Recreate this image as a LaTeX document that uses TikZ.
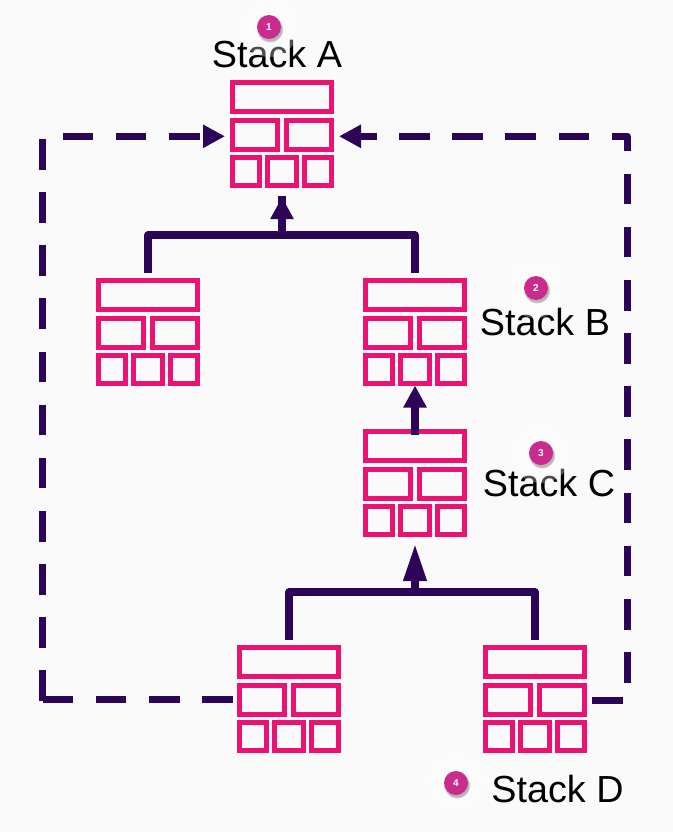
\documentclass[tikz,border=0pt]{standalone}
\usepackage{fontspec}
\setmainfont{Liberation Sans}
\usetikzlibrary{arrows.meta,shadows}

\definecolor{pagebg}{HTML}{FAFAFA}
\definecolor{brickpink}{HTML}{EC1272}
\definecolor{flowpurple}{HTML}{2D0558}
\definecolor{badgepink}{HTML}{C92C8C}

\tikzset{
	brick/.style={draw=brickpink,line width=3.4pt},
	stackbox/.style={minimum width=78pt,minimum height=81pt,inner sep=0pt},
	flow/.style={draw=flowpurple,line width=5.3pt,line join=round},
	flowdash/.style={flow,dash pattern=on 22.95pt off 16.91pt},
	flowhead/.style={-{Triangle[length=16.5pt,width=16.5pt]}},
	flowheadlong/.style={-{Triangle[length=27.75pt,width=16.5pt]}},
	stacklabel/.style={font=\fontsize{28.3pt}{30pt}\selectfont,text=black,inner sep=0pt},
	halo/.style={circle,fill=white,fill opacity=0.3,minimum size=#1,inner sep=0pt},
	badge/.style={circle,fill=badgepink,text=white,minimum size=18pt,inner sep=0pt,
		font=\fontsize{7.5pt}{8pt}\selectfont\bfseries,
		circular drop shadow={shadow xshift=0.6pt,shadow yshift=-1.5pt,opacity=0.55,shadow scale=1.12}},
	pics/bricks/.style={code={
		\draw[brick] (-49.7,-51.7) rectangle (49.7,-22.3);
		\draw[brick] (-49.7,-13.7) rectangle (-4.3,15.7);
		\draw[brick] (4.3,-13.7) rectangle (49.7,15.7);
		\draw[brick] (-49.7,23.3) rectangle (-22.3,51.7);
		\draw[brick] (-14.7,23.3) rectangle (14.7,51.7);
		\draw[brick] (22.3,23.3) rectangle (49.7,51.7);
	}}
}

\begin{document}
\begin{tikzpicture}[x=0.75pt,y=-0.75pt]

	% page
	\fill[pagebg] (0,0) rectangle (673,832);
	\useasboundingbox (0,0) rectangle (673,832);

	% stacks
	\node[stackbox] (stackA) at (282,134) {};
	\node[stackbox] (stackBL) at (148,332) {};
	\node[stackbox] (stackBR) at (415,332) {};
	\node[stackbox] (stackC) at (415,483) {};
	\node[stackbox] (stackDL) at (289,699) {};
	\node[stackbox] (stackDR) at (535,699) {};

	\pic at (stackA) {bricks};
	\pic at (stackBL) {bricks};
	\pic at (stackBR) {bricks};
	\pic at (stackC) {bricks};
	\pic at (stackDL) {bricks};
	\pic at (stackDR) {bricks};

	% line corners and free ends
	\coordinate (topL) at (148,273);
	\coordinate (topR) at (415,273);
	\coordinate (barL) at (148,235);
	\coordinate (barR) at (415,235);
	\coordinate (barM) at (282,235);
	\coordinate (tipA) at (282,197);
	\coordinate (stubA) at (282,196);

	\coordinate (tipB) at (415,385.5);
	\coordinate (footC) at (415,435);

	\coordinate (botL) at (289,640);
	\coordinate (botR) at (535,640);
	\coordinate (midL) at (289,592);
	\coordinate (midR) at (535,592);
	\coordinate (midM) at (415,592);
	\coordinate (tipC) at (415,544);

	\coordinate (dashLs) at (232.7,699.6);
	\coordinate (dashLb) at (42.7,699.6);
	\coordinate (dashLu) at (42.7,701);
	\coordinate (dashLt) at (42.7,136.3);
	\coordinate (dashLe) at (225,136.3);
	\coordinate (dashRs) at (592,700.3);
	\coordinate (dashRb) at (627.5,700.3);
	\coordinate (dashRt) at (627.5,136.3);
	\coordinate (dashRe) at (339,136.3);

	% tree lines
	\draw[flow] (topL)--(barL)--(barR)--(topR);
	\draw[flow,flowhead] (barM)--(tipA);
	\draw[flow] (barM)--(stubA);
	\draw[flow,flowhead] (footC)--(tipB);
	\draw[flow] (botL)--(midL)--(midR)--(botR);
	\draw[flow,flowheadlong] (midM)--(tipC);

	% dashed lines
	\draw[flowdash] (dashLs)--(dashLb);
	\draw[flowdash,flowhead] (dashLu)--(dashLt)--(dashLe);
	\draw[flowdash,flowhead] (dashRs)--(dashRb)--(dashRt)--(dashRe);

	% labels
	\node[stacklabel] (labelA) at (277,54) {Stack A};
	\node[stacklabel] (labelB) at (545,322) {Stack B};
	\node[stacklabel] (labelC) at (549,483) {Stack C};
	\node[stacklabel] (labelD) at (557.5,789) {Stack D};

	% halos
	\node[halo=45pt] (haloA) at (269,27) {};
	\node[halo=45pt] (haloB) at (536,288) {};
	\node[halo=45pt] (haloC) at (541,453) {};
	\node[halo=45pt] (haloD) at (456,783) {};

	% badges
	\node[badge] (badgeA) at (269,27) {1};
	\node[badge] (badgeB) at (536,288) {2};
	\node[badge] (badgeC) at (541,453) {3};
	\node[badge] (badgeD) at (456,783) {4};
\end{tikzpicture}
\end{document}
